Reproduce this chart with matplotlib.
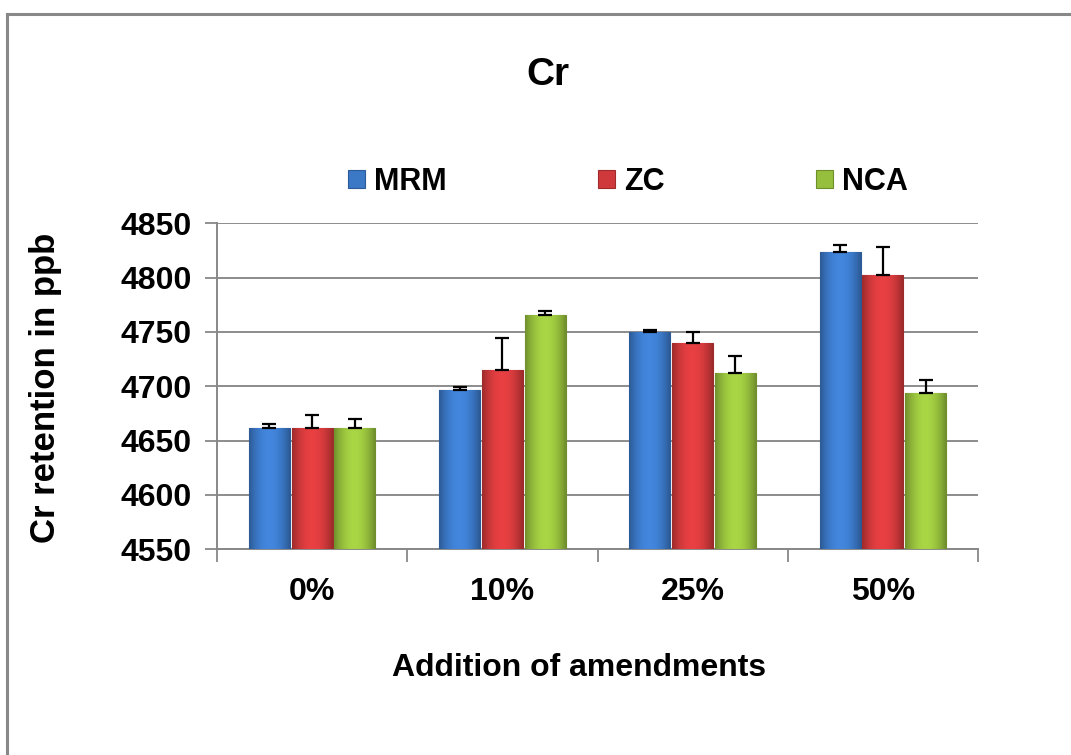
import matplotlib
matplotlib.use("Agg")
import matplotlib.pyplot as plt
import numpy as np
from matplotlib.lines import Line2D
from matplotlib.colors import to_rgb

plt.rcParams['font.family'] = ['Liberation Sans', 'DejaVu Sans']
plt.rcParams['font.weight'] = 'bold'

categories = ['0%', '10%', '25%', '50%']
series = ['MRM', 'ZC', 'NCA']
mrm = [4662, 4697, 4750, 4824]
zc = [4662, 4715, 4740, 4802]
nca = [4662, 4766, 4712, 4694]
mrm_err = [3.5, 2, 1.5, 6]
zc_err = [12, 29, 10, 26]
nca_err = [8, 3, 16, 12]
yticks = [4550, 4600, 4650, 4700, 4750, 4800, 4850]

values = [mrm, zc, nca]
errors = [mrm_err, zc_err, nca_err]
colors = ['#3B78C6', '#D0393B', '#96BF3D']
edges = ['#2B5A98', '#9E2A2B', '#6E8F2A']

fig = plt.figure(figsize=(10.71, 7.55), dpi=100)
ax = fig.add_axes([217/1071, 1-549.3/755, (978-217)/1071, (549.3-223.3)/755])

x = np.arange(len(categories))
slot = 0.225
bw = 0.215


def gradient_img(color):
    c = np.array(to_rgb(color))
    t = np.linspace(-1, 1, 64)
    f = 1 - np.abs(t) ** 2
    light = np.clip(c * 1.12, 0, 1)
    dark = c * 0.75
    row = dark[None, :] + (light - dark)[None, :] * f[:, None]
    return row[None, :, :]


for i, (vals, errs) in enumerate(zip(values, errors)):
    pos = x + (i - 1) * slot
    base = yticks[0]
    bars = ax.bar(pos, np.array(vals) - base, bottom=base, width=bw, color=colors[i],
                  edgecolor=edges[i], linewidth=0.8, label=series[i], zorder=3)
    img = gradient_img(colors[i])
    for b in bars:
        bx, by = b.get_x(), b.get_y()
        im = ax.imshow(img, extent=[bx, bx + b.get_width(), by, by + b.get_height()],
                       aspect='auto', zorder=3.5, interpolation='bicubic')
        im.set_clip_path(b)
    ax.errorbar(pos, vals, yerr=[np.zeros(len(errs)), errs], fmt='none',
                ecolor='black', elinewidth=1.6, capsize=5, capthick=1.6, zorder=4)

ax.set_ylim(4550, 4850)
ax.set_xlim(-0.5, len(categories) - 0.5)
ax.set_yticks(yticks)
ax.set_yticklabels([str(t) for t in yticks], fontsize=23, fontweight='bold')
ax.set_xticks(x)
ax.set_xticklabels(categories, fontsize=23, fontweight='bold')
ax.set_xticks(np.arange(-0.5, len(categories)), minor=True)
ax.tick_params(axis='x', which='major', length=0, pad=20)
ax.tick_params(axis='x', which='minor', length=9, width=1.3, color='#888888')
ax.tick_params(axis='y', length=9, width=1.3, color='#888888', pad=9)

ax.grid(axis='y', color='#8c8c8c', linewidth=1.4, zorder=0)
ax.set_axisbelow(True)
for s in ['top', 'right']:
    ax.spines[s].set_visible(False)
for s in ['left', 'bottom']:
    ax.spines[s].set_color('#888888')
    ax.spines[s].set_linewidth(1.4)

fig.text(548/1071, 1-75/755, 'Cr', fontsize=28, fontweight='bold', ha='center', va='center')
fig.text(579/1071, 1-668/755, 'Addition of amendments', fontsize=23, fontweight='bold',
         ha='center', va='center')
fig.text(46/1071, 1-(230+545)/2/755, 'Cr retention in ppb', fontsize=25, fontweight='bold',
         ha='center', va='center', rotation=90)

leg = fig.legend(loc='center', bbox_to_anchor=(628/1071, 1-182/755), ncol=3, frameon=False,
                 handlelength=0.55, handleheight=0.55, handletextpad=0.3,
                 columnspacing=4.95, prop={'weight': 'bold', 'size': 22})

fig.add_artist(Line2D([7/1071, 7/1071], [0, 1-14/755], color='#888888', linewidth=2.2,
                      transform=fig.transFigure))
fig.add_artist(Line2D([7/1071, 1], [1-14/755, 1-14/755], color='#888888', linewidth=2.2,
                      transform=fig.transFigure))

fig.savefig('out.png', dpi=100, facecolor='white')
